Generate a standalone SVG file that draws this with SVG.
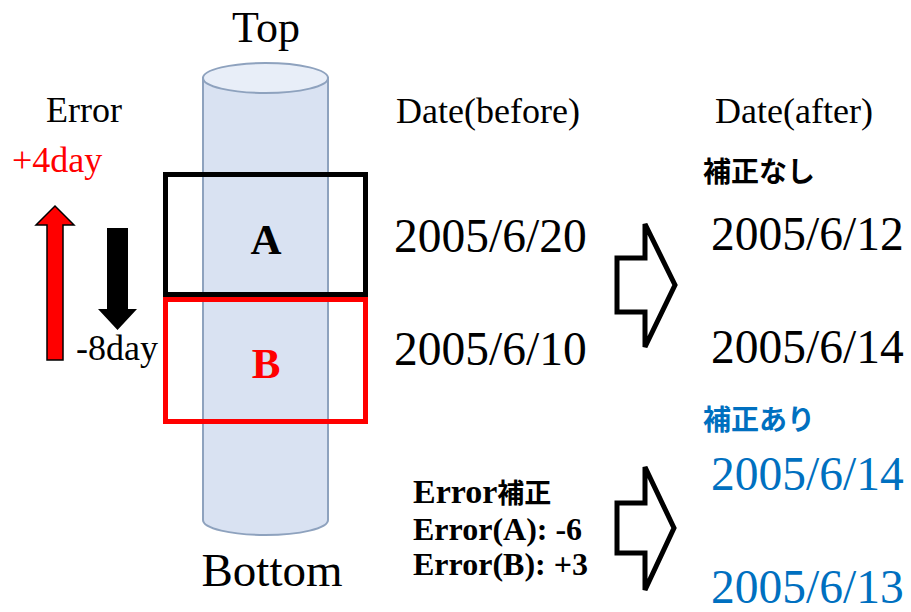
<svg xmlns="http://www.w3.org/2000/svg" width="911" height="612" viewBox="0 0 911 612">
  <style>
    .serif { font-family: "Liberation Serif", "Times New Roman", serif; }
    .cjk { font-family: "Liberation Serif", "Noto Sans CJK JP", serif; font-weight: bold; }
    .jp { font-family: "Noto Sans CJK JP", sans-serif; font-weight: bold; }
    .blue { fill: #0070C0; }
    .date { font-size: 47.5px; }
    .block-arrow { fill: #FFFFFF; stroke: #000000; stroke-width: 5; stroke-linejoin: miter; }
  </style>

  <rect width="911" height="612" fill="#FFFFFF"/>

  <!-- Core cylinder -->
  <g id="core">
    <path d="M203,78 L203,520 A62.5,15 0 0 0 328,520 L328,78 Z" fill="#D9E2F2" stroke="#8EA2BE" stroke-width="2"/>
    <ellipse cx="265.5" cy="78" rx="62.5" ry="15" fill="#E8EEF8" stroke="#8EA2BE" stroke-width="2"/>
  </g>
  <text class="serif" x="266" y="42" font-size="44" text-anchor="middle">Top</text>
  <text class="serif" x="272" y="586" font-size="47" text-anchor="middle">Bottom</text>

  <!-- Sample layers -->
  <g id="layer-a">
    <rect x="165.5" y="174.5" width="200" height="120" fill="none" stroke="#000000" stroke-width="5"/>
    <text class="serif" x="266" y="254" font-size="43" font-weight="bold" text-anchor="middle">A</text>
  </g>
  <g id="layer-b">
    <rect x="165.5" y="299.5" width="200" height="122" fill="none" stroke="#FF0000" stroke-width="5"/>
    <text class="serif" x="266" y="378" font-size="43" font-weight="bold" fill="#FF0000" text-anchor="middle">B</text>
  </g>

  <!-- Error indicators -->
  <g id="error">
    <text class="serif" x="84" y="122" font-size="36" text-anchor="middle">Error</text>
    <text class="serif" x="12" y="172" font-size="36" fill="#FF0000">+4day</text>
    <polygon points="47,360 47,225 36,225 55,206 74,225 63,225 63,360" fill="#FF0000" stroke="#000000" stroke-width="1.5"/>
    <polygon points="107,228 128,228 128,309 137,309 117.5,330 98,309 107,309" fill="#000000"/>
    <text class="serif" x="76" y="360" font-size="36">-8day</text>
  </g>

  <!-- Dates before correction -->
  <g id="dates-before">
    <text class="serif" x="396" y="123" font-size="36">Date(before)</text>
    <text class="serif date" x="394" y="252">2005/6/20</text>
    <text class="serif date" x="394" y="365">2005/6/10</text>
  </g>

  <!-- Correction notes -->
  <g id="correction">
    <text class="cjk" x="413" y="503" font-size="34">Error<tspan class="jp" font-size="27">補正</tspan></text>
    <text class="serif" x="413" y="540" font-size="32" font-weight="bold">Error(A): -6</text>
    <text class="serif" x="413" y="575" font-size="32" font-weight="bold">Error(B): +3</text>
  </g>

  <!-- Transition arrows -->
  <g id="connectors">
    <polygon class="block-arrow" points="617,258 645,258 645,224 675,285 645,347 645,312 617,312"/>
    <polygon class="block-arrow" points="617,503 645,503 645,467 674,528 645,590 645,553 617,553"/>
  </g>

  <!-- Dates after correction -->
  <g id="dates-after">
    <text class="serif" x="715" y="123" font-size="36">Date(after)</text>
    <text class="jp" x="703" y="182" font-size="28">補正なし</text>
    <text class="serif date" x="711" y="250">2005/6/12</text>
    <text class="serif date" x="711" y="363">2005/6/14</text>
    <text class="jp blue" x="703" y="430" font-size="28">補正あり</text>
    <text class="serif date blue" x="711" y="490">2005/6/14</text>
    <text class="serif date blue" x="711" y="603">2005/6/13</text>
  </g>
</svg>
